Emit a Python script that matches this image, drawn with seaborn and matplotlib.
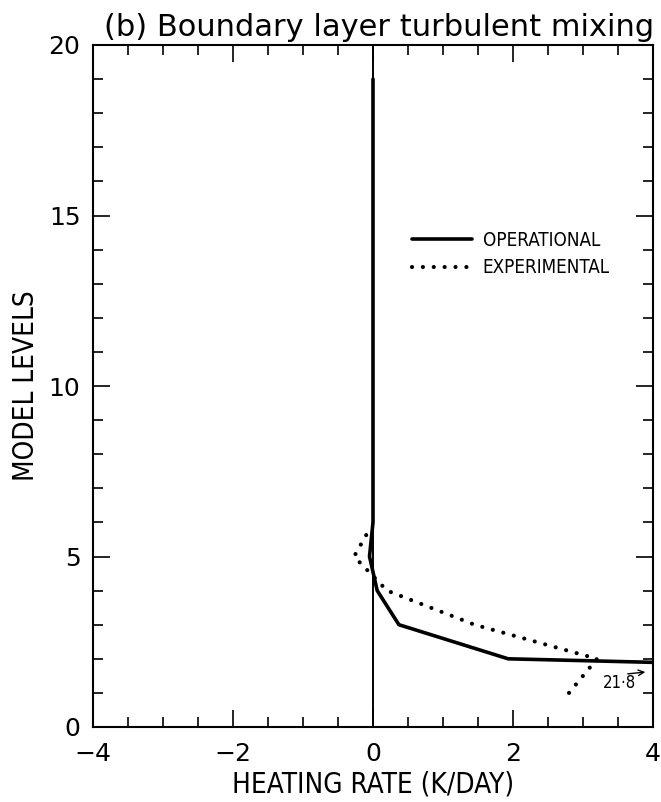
import matplotlib
matplotlib.use("Agg")
import matplotlib.pyplot as plt
import seaborn as sns
import pandas as pd
from matplotlib.ticker import MultipleLocator

sns.set_style("white")
plt.rcParams.update({"text.color": "black", "axes.labelcolor": "black",
                     "xtick.color": "black", "ytick.color": "black"})

# Data
levels_op = [1, 2, 3, 4, 5, 6, 7, 8, 9, 10, 11, 12, 13, 14, 15, 16, 17, 18, 19]
heating_op = [21.8, 1.93, 0.37, 0.06, -0.05, 0.0, 0.0, 0.0, 0.0, 0.0, 0.0, 0.0, 0.0, 0.0, 0.0, 0.0, 0.0, 0.0, 0.0]
levels_exp = [1, 2, 3, 4, 5, 5.8]
heating_exp = [2.8, 3.2, 1.45, 0.2, -0.27, -0.05]
x_ticks = [-4, -2, 0, 2, 4]
y_ticks = [0, 5, 10, 15, 20]
series_labels = ["OPERATIONAL", "EXPERIMENTAL"]

df_op = pd.DataFrame({"x": heating_op, "level": levels_op})
df_exp = pd.DataFrame({"x": heating_exp, "level": levels_exp})

cond = dict(family="DejaVu Sans", stretch="condensed")

fig = plt.figure(figsize=(6.61, 8.02), dpi=100)
ax = fig.add_axes([93/661, 75/802, 560/661, 682/802])

ax.axvline(0, color="black", lw=1.4, zorder=1)
sns.lineplot(data=df_exp, x="x", y="level", sort=False, estimator=None, ax=ax,
             color="black", lw=3.0, linestyle=(0, (0.01, 2.6)), dash_capstyle="round",
             label=series_labels[1], zorder=2)
sns.lineplot(data=df_op, x="x", y="level", sort=False, estimator=None, ax=ax,
             color="black", lw=2.6, label=series_labels[0], zorder=3)

ax.set_xlim(-4, 4)
ax.set_ylim(0, 20)
ax.set_xticks(x_ticks)
ax.set_yticks(y_ticks)
ax.set_xticklabels(["\u22124", "\u22122", "0", "2", "4"])
ax.xaxis.set_minor_locator(MultipleLocator(0.5))
ax.yaxis.set_minor_locator(MultipleLocator(1))
ax.tick_params(which="both", direction="in", top=True, right=True, bottom=True, left=True,
               colors="black", width=1.2)
ax.tick_params(which="major", length=12, labelsize=18)
ax.tick_params(axis="x", which="major", pad=11)
ax.tick_params(axis="y", which="major", pad=9)
ax.tick_params(which="minor", length=7)
for s in ax.spines.values():
    s.set_visible(True)
    s.set_color("black")
    s.set_linewidth(1.5)

ax.set_xlabel("HEATING RATE (K/DAY)", fontsize=20, labelpad=3, **cond)
ax.set_ylabel("MODEL LEVELS", fontsize=20, labelpad=6, **cond)

handles, labels = ax.get_legend_handles_labels()
order = [labels.index(series_labels[0]), labels.index(series_labels[1])]
ax.legend([handles[i] for i in order], [labels[i] for i in order],
          frameon=False, loc="upper left", bbox_to_anchor=(0.54, 0.752),
          prop={"family": "DejaVu Sans", "stretch": "condensed", "size": 13.5},
          handlelength=3.2, handletextpad=0.55, labelspacing=0.45)

ax.annotate("21\u00b78", xy=(3.52, 1.28), ha="center", va="center", fontsize=12, **cond)
ax.annotate("", xy=(3.93, 1.62), xytext=(3.6, 1.55),
            arrowprops=dict(arrowstyle="->", color="black", lw=1.0))

fig.text(0.573, 1 - 36/802, "(b) Boundary layer turbulent mixing", ha="center",
         va="baseline", fontsize=22)

fig.savefig("out.png", dpi=100)
